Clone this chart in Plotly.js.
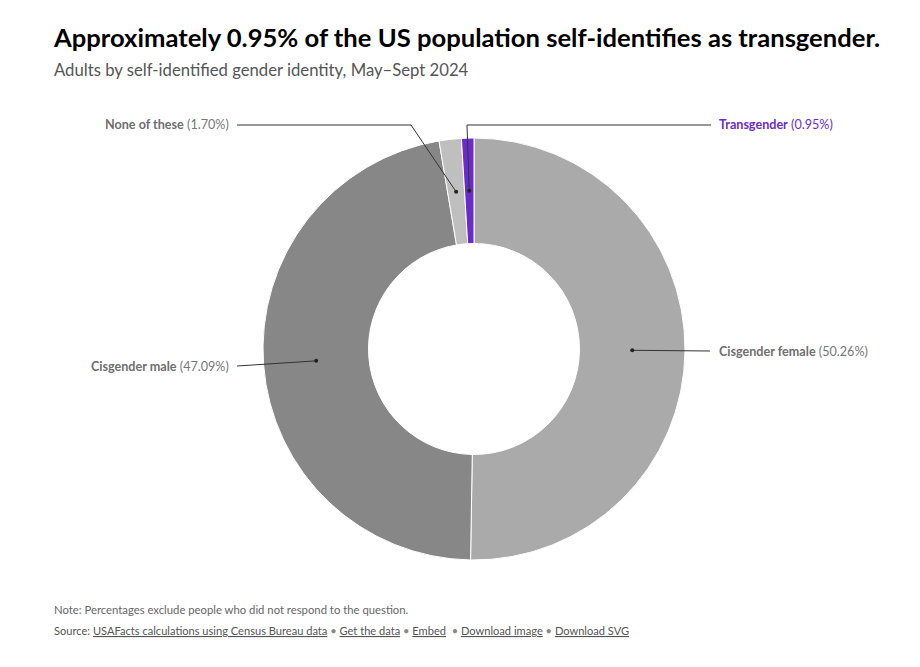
<!DOCTYPE html>
<html>
<head>
<meta charset="utf-8">
<script src="https://cdn.plot.ly/plotly-3.0.1.min.js"></script>
<style>
html,body{margin:0;padding:0;background:#fff;}
#chart{width:920px;height:667px;}
</style>
</head>
<body>
<div id="chart"></div>
<script>
// ---- data ----
const categories = ["Cisgender female", "Cisgender male", "None of these", "Transgender"];
const shares = [50.26, 47.09, 1.70, 0.95];
const sliceColors = ["#aaaaaa", "#878787", "#bfbfbf", "#6a2bc9"];
const labelColors = ["#6e6e6e", "#6e6e6e", "#6e6e6e", "#6a2bc9"];

const W = 920, H = 667;
const CX = 474, CY = 349, R = 211, HOLE = 0.5;
const px = x => x / W;
const py = y => 1 - y / H;

// label layout (positions only)
const labelLayout = [
  {side: "right", tx: 717, ty: 351, path: d => [[d[0], d[1]], [710, 351]]},
  {side: "left",  tx: 231, ty: 366, path: d => [[d[0], d[1]], [237, 366]]},
  {side: "left",  tx: 231, ty: 125, path: d => [[d[0], d[1]], [411, 125], [237, 125]]},
  {side: "right", tx: 717, ty: 125, path: d => [[d[0], d[1]], [467, 125], [711, 125]]}
];

const total = shares.reduce((a, b) => a + b, 0);
const rMid = R * (1 + HOLE) / 2;
let cum = 0;
const shapes = [], annotations = [];
shares.forEach((v, i) => {
  const a = (cum + v / 2) / total * 2 * Math.PI;
  cum += v;
  const dot = [CX + rMid * Math.sin(a), CY - rMid * Math.cos(a)];
  const lay = labelLayout[i];
  const pts = lay.path(dot);
  for (let k = 0; k < pts.length - 1; k++) {
    shapes.push({type: "line", xref: "paper", yref: "paper",
      x0: px(pts[k][0]), y0: py(pts[k][1]), x1: px(pts[k+1][0]), y1: py(pts[k+1][1]),
      line: {color: "#333333", width: 1}});
  }
  shapes.push({type: "circle", xref: "paper", yref: "paper",
    x0: px(dot[0] - 2), x1: px(dot[0] + 2), y0: py(dot[1] - 2), y1: py(dot[1] + 2),
    fillcolor: "#222222", line: {width: 0}});
  const pctColor = i === 3 ? labelColors[i] : "#777777";
  annotations.push({xref: "paper", yref: "paper", x: px(lay.tx), y: py(lay.ty),
    xanchor: lay.side === "right" ? "left" : "right", yanchor: "middle", showarrow: false,
    text: "<b>" + categories[i] + "</b> <span style='color:" + pctColor + "'>(" + v.toFixed(2) + "%)</span>",
    font: {family: "Lato, 'Source Sans Pro', sans-serif", size: 12.6, color: labelColors[i]}});
});

// titles and footer
annotations.push({xref: "paper", yref: "paper", x: px(51), y: py(37), xanchor: "left", yanchor: "middle", showarrow: false,
  text: "<b>Approximately 0.95% of the US population self-identifies as transgender.</b>",
  font: {family: "Lato, sans-serif", size: 25.6, color: "#000000"}});
annotations.push({xref: "paper", yref: "paper", x: px(52), y: py(70), xanchor: "left", yanchor: "middle", showarrow: false,
  text: "Adults by self-identified gender identity, May–Sept 2024",
  font: {family: "Lato, sans-serif", size: 16.7, color: "#555555"}});
annotations.push({xref: "paper", yref: "paper", x: px(52), y: py(609), xanchor: "left", yanchor: "middle", showarrow: false,
  text: "Note: Percentages exclude people who did not respond to the question.",
  font: {family: "Lato, sans-serif", size: 11.3, color: "#666666"}});
const u = s => "<span style='text-decoration:underline'>" + s + "</span>";
const dot = "<span style='color:#888888'>•</span>";
annotations.push({xref: "paper", yref: "paper", x: px(52), y: py(630), xanchor: "left", yanchor: "middle", showarrow: false,
  text: "Source: " + u("USAFacts calculations using Census Bureau data") + " " + dot + " " + u("Get the data") + " " + dot + " " + u("Embed") + "  " + dot + " " + u("Download image") + " " + dot + " " + u("Download SVG"),
  font: {family: "Lato, sans-serif", size: 11.1, color: "#555555"}});

const trace = {
  type: "pie",
  labels: categories,
  values: shares,
  sort: false,
  direction: "clockwise",
  rotation: 0,
  hole: HOLE,
  textinfo: "none",
  hoverinfo: "label+percent",
  marker: {colors: sliceColors, line: {color: "#ffffff", width: 1}},
  domain: {x: [px(CX - R), px(CX + R)], y: [py(CY + R), py(CY - R)]},
  showlegend: false
};

Plotly.newPlot("chart", [trace], {
  width: W, height: H,
  margin: {l: 0, r: 0, t: 0, b: 0},
  paper_bgcolor: "#ffffff",
  showlegend: false,
  shapes: shapes,
  annotations: annotations
}, {displayModeBar: false, staticPlot: true});
</script>
</body>
</html>
